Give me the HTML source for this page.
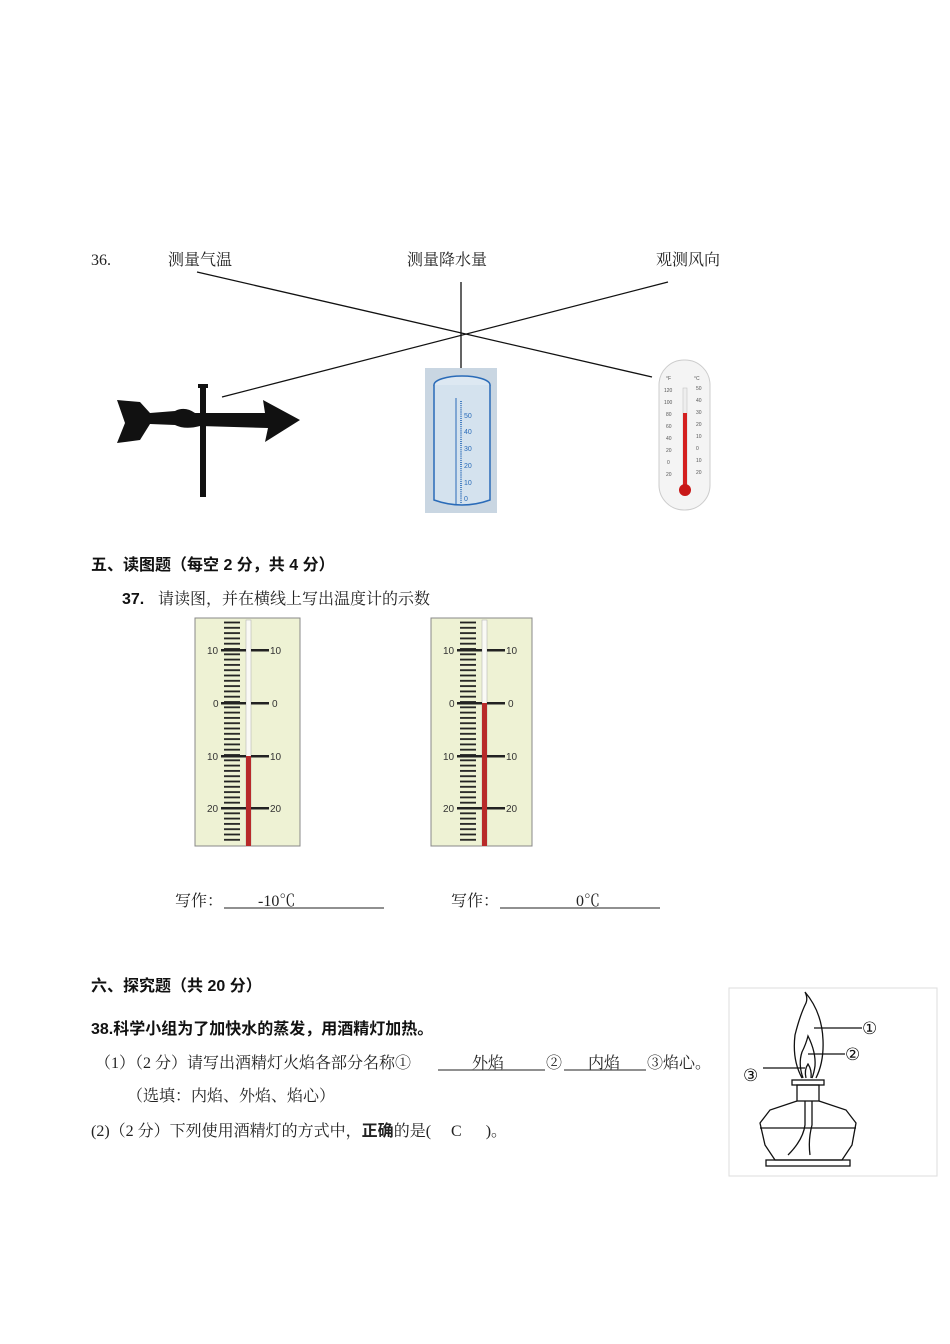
<!DOCTYPE html>
<html><head><meta charset="utf-8"><style>
html,body{margin:0;padding:0;background:#fff;}
svg{display:block;}
.s{font-family:"Liberation Serif","Noto Serif CJK SC",serif;font-size:16px;fill:#222;}
.b{font-family:"Liberation Sans","Noto Sans CJK SC",sans-serif;font-size:16px;font-weight:bold;fill:#111;}
.t{font-family:"Liberation Sans",sans-serif;font-size:10px;fill:#333;}
</style></head><body>
<svg width="950" height="1344" viewBox="0 0 950 1344" xmlns="http://www.w3.org/2000/svg">
<defs>
<pattern id="tk" x="0" y="0" width="30" height="5.3" patternUnits="userSpaceOnUse">
<rect x="14" y="1.5" width="16" height="1.8" fill="#222"/>
</pattern>
<pattern id="rg" x="0" y="0" width="10" height="2.1" patternUnits="userSpaceOnUse">
<rect x="0" y="0" width="5" height="0.8" fill="#2a6bb8"/>
</pattern>
</defs>

<text class="s" x="91" y="265">36.</text>
<text class="s" x="168" y="265" font-size="17">测量气温</text>
<text class="s" x="407" y="265" font-size="17">测量降水量</text>
<text class="s" x="656" y="265" font-size="17">观测风向</text>
<line x1="197" y1="272" x2="652" y2="377" stroke="#111" stroke-width="1.3"/>
<line x1="222" y1="397" x2="668" y2="282" stroke="#111" stroke-width="1.3"/>
<line x1="461" y1="282" x2="461" y2="370" stroke="#111" stroke-width="1.3"/>

<g fill="#111">
<rect x="200" y="386" width="6" height="111"/>
<rect x="198" y="384" width="10" height="4"/>
<path d="M117 400 L140 402 L150 413 L175 411 Q185 406 195 413 L265 413 L263 400 L300 420 L265 442 L268 428 L200 426 Q185 430 175 425 L150 424 L140 440 L117 443 L125 423 Z"/>
</g>

<rect x="425" y="368" width="72" height="145" fill="#c9d6e2"/>
<ellipse cx="462" cy="385" rx="28" ry="9" fill="#dde8f2" stroke="#2a6bb8" stroke-width="1.5"/>
<path d="M434 385 L434 500 Q462 510 490 500 L490 385" fill="#d4e2ee" stroke="#2a6bb8" stroke-width="1.5"/>
<line x1="456" y1="398" x2="456" y2="505" stroke="#2a6bb8" stroke-width="1"/>
<rect x="456" y="400" width="6" height="103" fill="url(#rg)"/>
<g font-family="Liberation Sans" font-size="7" fill="#2a6bb8">
<text x="464" y="418">50</text><text x="464" y="434">40</text><text x="464" y="451">30</text>
<text x="464" y="468">20</text><text x="464" y="485">10</text><text x="464" y="501">0</text>
</g>

<rect x="659" y="360" width="51" height="150" rx="25" fill="#f4f4f4" stroke="#ccc"/>
<rect x="683" y="388" width="4" height="100" fill="#eee" stroke="#bbb" stroke-width="0.5"/>
<rect x="683" y="413" width="4" height="75" fill="#d42020"/>
<circle cx="685" cy="490" r="6" fill="#c81818"/>
<g font-family="Liberation Sans" font-size="5" fill="#555">
<text x="666" y="380">°F</text><text x="694" y="380">°C</text>
<text x="664" y="392">120</text><text x="664" y="404">100</text><text x="666" y="416">80</text><text x="666" y="428">60</text><text x="666" y="440">40</text><text x="666" y="452">20</text><text x="667" y="464">0</text><text x="666" y="476">20</text>
<text x="696" y="390">50</text><text x="696" y="402">40</text><text x="696" y="414">30</text><text x="696" y="426">20</text><text x="696" y="438">10</text><text x="696" y="450">0</text><text x="696" y="462">10</text><text x="696" y="474">20</text>
</g>

<text class="b" x="91" y="570">五、读图题（每空 2 分，共 4 分）</text>
<text class="b" x="122" y="604">37.</text>
<text class="s" x="158" y="604">请读图，并在横线上写出温度计的示数</text>

<g>
<rect x="195" y="618" width="105" height="228" fill="#eef2d4" stroke="#888" stroke-width="1"/>
<rect x="215" y="620" width="31" height="224" fill="url(#tk)"/>
<rect x="246" y="620" width="5" height="226" fill="#fafaf5" stroke="#aaa" stroke-width="0.5"/>
<rect x="246" y="756" width="5" height="90" fill="#b82a2a"/>
<g fill="#222"><rect x="221" y="649" width="25" height="2.5"/><rect x="221" y="702" width="25" height="2.5"/><rect x="221" y="755" width="25" height="2.5"/><rect x="221" y="807" width="25" height="2.5"/>
<rect x="251" y="649" width="18" height="2.5"/><rect x="251" y="702" width="18" height="2.5"/><rect x="251" y="755" width="18" height="2.5"/><rect x="251" y="807" width="18" height="2.5"/></g>
<g class="t"><text x="207" y="654">10</text><text x="213" y="707">0</text><text x="207" y="760">10</text><text x="207" y="812">20</text>
<text x="270" y="654">10</text><text x="272" y="707">0</text><text x="270" y="760">10</text><text x="270" y="812">20</text></g>
</g>
<g transform="translate(236,0)">
<rect x="195" y="618" width="101" height="228" fill="#eef2d4" stroke="#888" stroke-width="1"/>
<rect x="215" y="620" width="31" height="224" fill="url(#tk)"/>
<rect x="246" y="620" width="5" height="226" fill="#fafaf5" stroke="#aaa" stroke-width="0.5"/>
<rect x="246" y="703" width="5" height="143" fill="#b82a2a"/>
<g fill="#222"><rect x="221" y="649" width="25" height="2.5"/><rect x="221" y="702" width="25" height="2.5"/><rect x="221" y="755" width="25" height="2.5"/><rect x="221" y="807" width="25" height="2.5"/>
<rect x="251" y="649" width="18" height="2.5"/><rect x="251" y="702" width="18" height="2.5"/><rect x="251" y="755" width="18" height="2.5"/><rect x="251" y="807" width="18" height="2.5"/></g>
<g class="t"><text x="207" y="654">10</text><text x="213" y="707">0</text><text x="207" y="760">10</text><text x="207" y="812">20</text>
<text x="270" y="654">10</text><text x="272" y="707">0</text><text x="270" y="760">10</text><text x="270" y="812">20</text></g>
</g>

<text class="s" x="175" y="906">写作：</text>
<text class="s" x="258" y="906">-10℃</text>
<line x1="224" y1="908" x2="384" y2="908" stroke="#222"/>
<text class="s" x="451" y="906">写作：</text>
<text class="s" x="576" y="906">0℃</text>
<line x1="500" y1="908" x2="660" y2="908" stroke="#222"/>

<text class="b" x="91" y="991">六、探究题（共 20 分）</text>
<text class="b" x="91" y="1034" font-size="15">38.科学小组为了加快水的蒸发，用酒精灯加热。</text>
<text class="s" x="95" y="1068">（1）（2 分）请写出酒精灯火焰各部分名称①</text>
<text class="s" x="472" y="1068">外焰</text>
<line x1="438" y1="1070" x2="545" y2="1070" stroke="#222"/>
<text class="s" x="546" y="1068">②</text>
<text class="s" x="588" y="1068">内焰</text>
<line x1="564" y1="1070" x2="646" y2="1070" stroke="#222"/>
<text class="s" x="647" y="1068">③焰心。</text>
<text class="s" x="127" y="1101">（选填：内焰、外焰、焰心）</text>
<text class="s" x="91" y="1136">(2)（2 分）下列使用酒精灯的方式中，<tspan font-weight="bold" font-family="Liberation Sans,Noto Sans CJK SC,sans-serif">正确</tspan>的是(　 C 　 )。</text>

<rect x="729" y="988" width="208" height="188" fill="#fff" stroke="#ddd"/>
<g fill="none" stroke="#111" stroke-width="1.3">
<path d="M802 1078 Q792 1060 795 1035 Q800 1015 806 1003 Q808 998 805 992 Q822 1012 823 1040 Q824 1062 816 1078"/>
<path d="M803 1078 Q798 1064 802 1052 Q806 1044 808 1036 Q816 1052 815 1066 Q814 1073 812 1078"/>
<path d="M806 1078 Q804 1070 808 1064 Q812 1070 811 1078"/>
<line x1="814" y1="1028" x2="862" y2="1028"/>
<line x1="808" y1="1054" x2="845" y2="1054"/>
<line x1="763" y1="1068" x2="805" y2="1068"/>
<rect x="792" y="1080" width="32" height="5"/>
<rect x="797" y="1085" width="22" height="16"/>
<path d="M797 1101 L770 1110 L760 1123 L765 1145 L775 1160 L842 1160 L852 1145 L856 1123 L846 1110 L819 1101"/>
<line x1="760" y1="1128" x2="856" y2="1128"/>
<rect x="766" y="1160" width="84" height="6"/>
<path d="M805 1101 L805 1125 Q803 1140 788 1155"/>
<path d="M812 1101 L812 1125 Q808 1140 810 1155"/>
</g>
<g font-family="Liberation Sans,DejaVu Sans,sans-serif" font-size="17" fill="#111">
<text x="862" y="1034">①</text><text x="845" y="1060">②</text><text x="743" y="1081">③</text>
</g>
</svg>
</body></html>
